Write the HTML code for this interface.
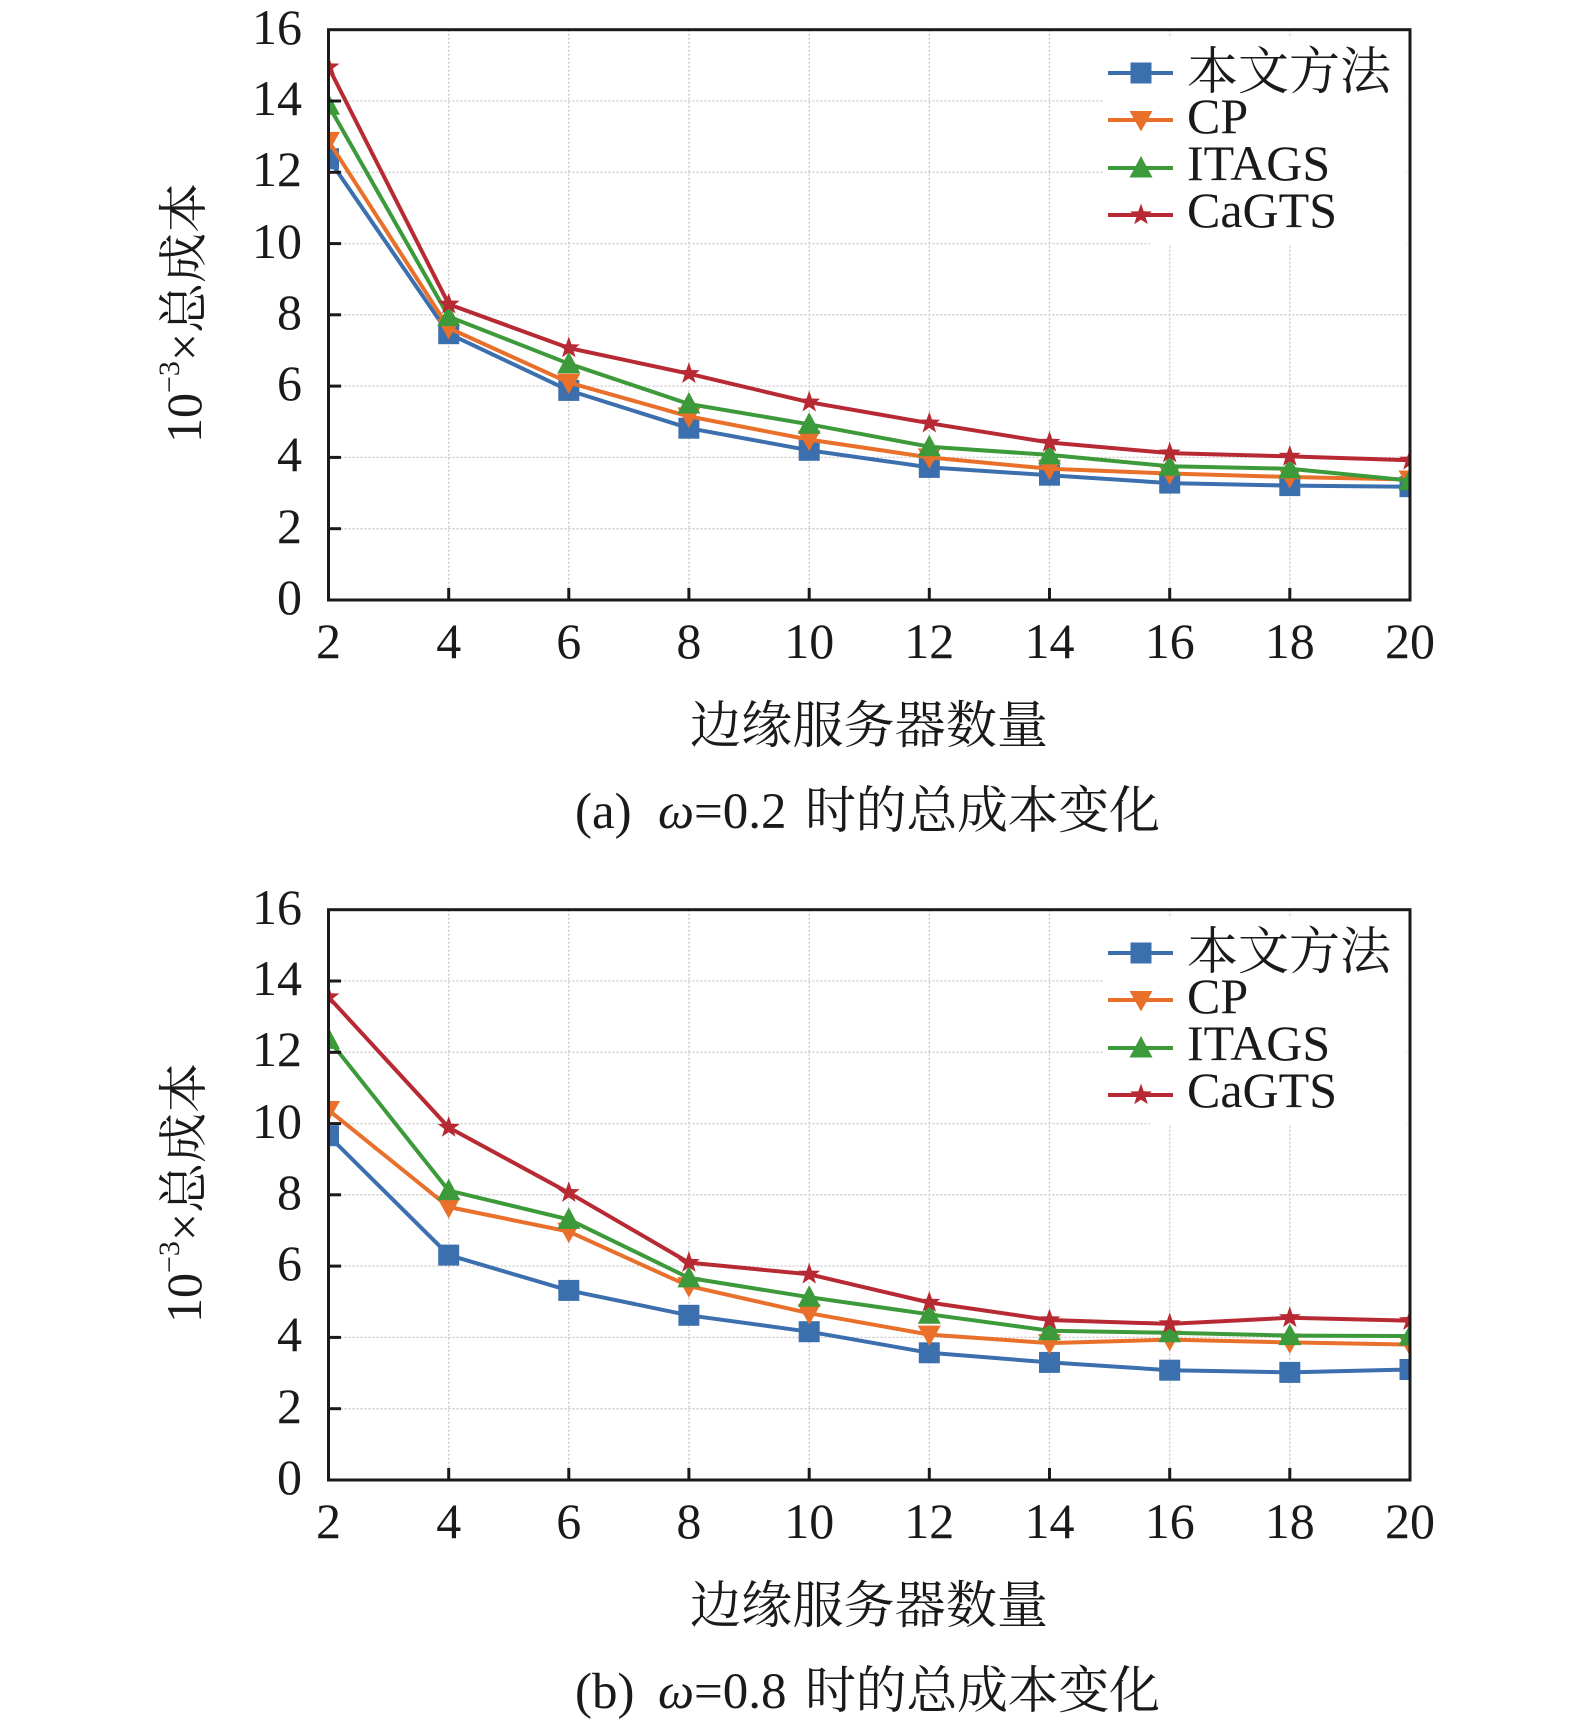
<!DOCTYPE html>
<html><head><meta charset="utf-8"><style>
html,body{margin:0;padding:0;background:#fff;}
svg{display:block;}
</style></head><body>
<svg width="1575" height="1727" viewBox="0 0 1575 1727" xmlns="http://www.w3.org/2000/svg">
<defs>
<clipPath id="cp"><rect x="328.5" y="29.7" width="1081.5" height="570.3"/></clipPath>
<g id="msq"><rect x="-10.5" y="-10.5" width="21" height="21" fill="#3c6fae"/></g>
<g id="mtd"><polygon points="-11.5,-9 11.5,-9 0,11.5" fill="#e8702a"/></g>
<g id="mtu"><polygon points="0,-12 11.5,9.5 -11.5,9.5" fill="#3d9a3a"/></g>
<g id="mst"><polygon points="0,-11.5 2.7,-3.7 11,-3.5 4.4,1.5 6.8,9.3 0,4.7 -6.8,9.3 -4.4,1.5 -11,-3.5 -2.7,-3.7" fill="#b82a33"/></g>
<g id="frame">
  <rect x="0" y="0" width="1575" height="880" fill="#fff"/>
  <g stroke="#c9c9c9" stroke-width="1.3" stroke-dasharray="2,2" fill="none">
    <line x1="448.7" y1="29.7" x2="448.7" y2="600"/>
    <line x1="568.8" y1="29.7" x2="568.8" y2="600"/>
    <line x1="688.9" y1="29.7" x2="688.9" y2="600"/>
    <line x1="809.2" y1="29.7" x2="809.2" y2="600"/>
    <line x1="929.3" y1="29.7" x2="929.3" y2="600"/>
    <line x1="1049.5" y1="29.7" x2="1049.5" y2="600"/>
    <line x1="1169.7" y1="29.7" x2="1169.7" y2="600"/>
    <line x1="1289.8" y1="29.7" x2="1289.8" y2="600"/>
    <line x1="328.5" y1="528.7" x2="1410" y2="528.7"/>
    <line x1="328.5" y1="457.4" x2="1410" y2="457.4"/>
    <line x1="328.5" y1="386.1" x2="1410" y2="386.1"/>
    <line x1="328.5" y1="314.8" x2="1410" y2="314.8"/>
    <line x1="328.5" y1="243.6" x2="1410" y2="243.6"/>
    <line x1="328.5" y1="172.3" x2="1410" y2="172.3"/>
    <line x1="328.5" y1="101.0" x2="1410" y2="101.0"/>
  </g>
  <g font-family="'Liberation Serif', 'Noto Serif CJK SC', serif" fill="#1a1a1a" font-size="50" text-anchor="end">
    <text x="302" y="614">0</text>
    <text x="302" y="543">2</text>
    <text x="302" y="471">4</text>
    <text x="302" y="400">6</text>
    <text x="302" y="329">8</text>
    <text x="302" y="258">10</text>
    <text x="302" y="186">12</text>
    <text x="302" y="115">14</text>
    <text x="302" y="44">16</text>
  </g>
  <g font-family="'Liberation Serif', 'Noto Serif CJK SC', serif" fill="#1a1a1a" font-size="50" text-anchor="middle">
    <text x="328.5" y="658">2</text>
    <text x="448.7" y="658">4</text>
    <text x="568.8" y="658">6</text>
    <text x="688.9" y="658">8</text>
    <text x="809.2" y="658">10</text>
    <text x="929.3" y="658">12</text>
    <text x="1049.5" y="658">14</text>
    <text x="1169.7" y="658">16</text>
    <text x="1289.8" y="658">18</text>
    <text x="1410" y="658">20</text>
  </g>
  <g font-family="'Liberation Serif', 'Noto Serif CJK SC', serif" fill="#1a1a1a">
  <text font-size="50" transform="translate(201,443) rotate(-90)">10<tspan font-size="30" dy="-22">−3</tspan><tspan dy="22">×总成本</tspan></text>
  <text font-size="51" x="690" y="743" textLength="358" lengthAdjust="spacing">边缘服务器数量</text>
  </g>
</g>
<g id="axes">
  <g stroke="#1a1a1a" stroke-width="3" fill="none">
    <line x1="328.5" y1="528.7" x2="341" y2="528.7"/>
    <line x1="328.5" y1="457.4" x2="341" y2="457.4"/>
    <line x1="328.5" y1="386.1" x2="341" y2="386.1"/>
    <line x1="328.5" y1="314.8" x2="341" y2="314.8"/>
    <line x1="328.5" y1="243.6" x2="341" y2="243.6"/>
    <line x1="328.5" y1="172.3" x2="341" y2="172.3"/>
    <line x1="328.5" y1="101.0" x2="341" y2="101.0"/>
    <line x1="448.7" y1="600" x2="448.7" y2="588"/>
    <line x1="568.8" y1="600" x2="568.8" y2="588"/>
    <line x1="688.9" y1="600" x2="688.9" y2="588"/>
    <line x1="809.2" y1="600" x2="809.2" y2="588"/>
    <line x1="929.3" y1="600" x2="929.3" y2="588"/>
    <line x1="1049.5" y1="600" x2="1049.5" y2="588"/>
    <line x1="1169.7" y1="600" x2="1169.7" y2="588"/>
    <line x1="1289.8" y1="600" x2="1289.8" y2="588"/>
    <rect x="328.5" y="29.7" width="1081.5" height="570.3"/>
  </g>
</g>
<g id="legend">
  <rect x="1104" y="36" width="302" height="200" fill="#fff"/>
  <rect x="1150" y="230" width="256" height="16" fill="#fff"/>
  <line x1="1108" y1="73" x2="1173" y2="73" stroke="#3c6fae" stroke-width="4"/>
  <use href="#msq" x="1141" y="73"/>
  <line x1="1108" y1="120" x2="1173" y2="120" stroke="#e8702a" stroke-width="4"/>
  <use href="#mtd" x="1141" y="120"/>
  <line x1="1108" y1="168" x2="1173" y2="168" stroke="#3d9a3a" stroke-width="4"/>
  <use href="#mtu" x="1141" y="168"/>
  <line x1="1108" y1="215" x2="1173" y2="215" stroke="#b82a33" stroke-width="4"/>
  <use href="#mst" x="1141" y="215"/>
  <g font-family="'Liberation Serif', 'Noto Serif CJK SC', serif" fill="#1a1a1a">
  <text font-size="51" x="1187" y="89" textLength="204" lengthAdjust="spacing">本文方法</text>
  <text font-size="50" x="1187" y="133">CP</text>
  <text font-size="50" x="1187" y="180">ITAGS</text>
  <text font-size="50" x="1187" y="227">CaGTS</text>
  </g>
</g>
</defs>

<rect width="1575" height="1727" fill="#fff"/>

<!-- Panel (a) -->
<use href="#frame"/>
<g clip-path="url(#cp)" fill="none" stroke-width="4" stroke-linejoin="round">
  <polyline stroke="#3c6fae" points="328.5,158.7 448.7,333.7 568.8,390.4 688.9,428.2 809.2,450.3 929.3,467.4 1049.5,475.2 1169.7,483.1 1289.8,485.6 1410,486.7"/>
  <g>
    <use href="#msq" x="328.5" y="158.7"/><use href="#msq" x="448.7" y="333.7"/><use href="#msq" x="568.8" y="390.4"/><use href="#msq" x="688.9" y="428.2"/><use href="#msq" x="809.2" y="450.3"/><use href="#msq" x="929.3" y="467.4"/><use href="#msq" x="1049.5" y="475.2"/><use href="#msq" x="1169.7" y="483.1"/><use href="#msq" x="1289.8" y="485.6"/><use href="#msq" x="1410" y="486.7"/>
  </g>
  <polyline stroke="#e8702a" points="328.5,140.9 448.7,328.0 568.8,382.6 688.9,416.4 809.2,439.6 929.3,457.4 1049.5,468.8 1169.7,473.5 1289.8,477.0 1410,479.5"/>
  <g>
    <use href="#mtd" x="328.5" y="140.9"/><use href="#mtd" x="448.7" y="328.0"/><use href="#mtd" x="568.8" y="382.6"/><use href="#mtd" x="688.9" y="416.4"/><use href="#mtd" x="809.2" y="439.6"/><use href="#mtd" x="929.3" y="457.4"/><use href="#mtd" x="1049.5" y="468.8"/><use href="#mtd" x="1169.7" y="473.5"/><use href="#mtd" x="1289.8" y="477.0"/><use href="#mtd" x="1410" y="479.5"/>
  </g>
  <polyline stroke="#3d9a3a" points="328.5,105.3 448.7,316.6 568.8,363.7 688.9,404.0 809.2,424.3 929.3,446.7 1049.5,454.9 1169.7,466.3 1289.8,468.8 1410,480.6"/>
  <g>
    <use href="#mtu" x="328.5" y="105.3"/><use href="#mtu" x="448.7" y="316.6"/><use href="#mtu" x="568.8" y="363.7"/><use href="#mtu" x="688.9" y="404.0"/><use href="#mtu" x="809.2" y="424.3"/><use href="#mtu" x="929.3" y="446.7"/><use href="#mtu" x="1049.5" y="454.9"/><use href="#mtu" x="1169.7" y="466.3"/><use href="#mtu" x="1289.8" y="468.8"/><use href="#mtu" x="1410" y="480.6"/>
  </g>
  <polyline stroke="#b82a33" points="328.5,67.1 448.7,304.2 568.8,348.0 688.9,373.7 809.2,402.2 929.3,423.2 1049.5,442.5 1169.7,453.1 1289.8,456.4 1410,460.3"/>
  <g>
    <use href="#mst" x="328.5" y="67.1"/><use href="#mst" x="448.7" y="304.2"/><use href="#mst" x="568.8" y="348.0"/><use href="#mst" x="688.9" y="373.7"/><use href="#mst" x="809.2" y="402.2"/><use href="#mst" x="929.3" y="423.2"/><use href="#mst" x="1049.5" y="442.5"/><use href="#mst" x="1169.7" y="453.1"/><use href="#mst" x="1289.8" y="456.4"/><use href="#mst" x="1410" y="460.3"/>
  </g>
</g>
<use href="#legend"/>
<use href="#axes"/>
<g font-family="'Liberation Serif', 'Noto Serif CJK SC', serif" fill="#1a1a1a" font-size="51">
<text x="575" y="828">(a)</text>
<text x="658" y="828"><tspan font-style="italic">ω</tspan>=0.2</text>
<text x="805" y="828" textLength="355" lengthAdjust="spacing">时的总成本变化</text>
</g>

<!-- Panel (b) -->
<g transform="translate(0,880)">
<use href="#frame"/>
<g clip-path="url(#cp)" fill="none" stroke-width="4" stroke-linejoin="round">
  <polyline stroke="#3c6fae" points="328.5,255.7 448.7,375.1 568.8,410.4 688.9,435.3 809.2,451.7 929.3,472.8 1049.5,482.4 1169.7,490.2 1289.8,492.4 1410,489.5"/>
  <g>
    <use href="#msq" x="328.5" y="255.7"/><use href="#msq" x="448.7" y="375.1"/><use href="#msq" x="568.8" y="410.4"/><use href="#msq" x="688.9" y="435.3"/><use href="#msq" x="809.2" y="451.7"/><use href="#msq" x="929.3" y="472.8"/><use href="#msq" x="1049.5" y="482.4"/><use href="#msq" x="1169.7" y="490.2"/><use href="#msq" x="1289.8" y="492.4"/><use href="#msq" x="1410" y="489.5"/>
  </g>
  <polyline stroke="#e8702a" points="328.5,230.0 448.7,327.0 568.8,351.6 688.9,406.1 809.2,433.2 929.3,454.6 1049.5,463.1 1169.7,459.6 1289.8,462.4 1410,464.6"/>
  <g>
    <use href="#mtd" x="328.5" y="230.0"/><use href="#mtd" x="448.7" y="327.0"/><use href="#mtd" x="568.8" y="351.6"/><use href="#mtd" x="688.9" y="406.1"/><use href="#mtd" x="809.2" y="433.2"/><use href="#mtd" x="929.3" y="454.6"/><use href="#mtd" x="1049.5" y="463.1"/><use href="#mtd" x="1169.7" y="459.6"/><use href="#mtd" x="1289.8" y="462.4"/><use href="#mtd" x="1410" y="464.6"/>
  </g>
  <polyline stroke="#3d9a3a" points="328.5,159.4 448.7,310.6 568.8,339.4 688.9,397.9 809.2,417.2 929.3,434.3 1049.5,450.7 1169.7,452.8 1289.8,455.6 1410,456.0"/>
  <g>
    <use href="#mtu" x="328.5" y="159.4"/><use href="#mtu" x="448.7" y="310.6"/><use href="#mtu" x="568.8" y="339.4"/><use href="#mtu" x="688.9" y="397.9"/><use href="#mtu" x="809.2" y="417.2"/><use href="#mtu" x="929.3" y="434.3"/><use href="#mtu" x="1049.5" y="450.7"/><use href="#mtu" x="1169.7" y="452.8"/><use href="#mtu" x="1289.8" y="455.6"/><use href="#mtu" x="1410" y="456.0"/>
  </g>
  <polyline stroke="#b82a33" points="328.5,117.0 448.7,247.5 568.8,312.7 688.9,382.6 809.2,394.3 929.3,422.5 1049.5,440.0 1169.7,443.9 1289.8,437.8 1410,440.7"/>
  <g>
    <use href="#mst" x="328.5" y="117.0"/><use href="#mst" x="448.7" y="247.5"/><use href="#mst" x="568.8" y="312.7"/><use href="#mst" x="688.9" y="382.6"/><use href="#mst" x="809.2" y="394.3"/><use href="#mst" x="929.3" y="422.5"/><use href="#mst" x="1049.5" y="440.0"/><use href="#mst" x="1169.7" y="443.9"/><use href="#mst" x="1289.8" y="437.8"/><use href="#mst" x="1410" y="440.7"/>
  </g>
</g>
<use href="#legend"/>
<use href="#axes"/>
<g font-family="'Liberation Serif', 'Noto Serif CJK SC', serif" fill="#1a1a1a" font-size="51">
<text x="575" y="828">(b)</text>
<text x="658" y="828"><tspan font-style="italic">ω</tspan>=0.8</text>
<text x="805" y="828" textLength="355" lengthAdjust="spacing">时的总成本变化</text>
</g>
</g>
</svg>
</body></html>
